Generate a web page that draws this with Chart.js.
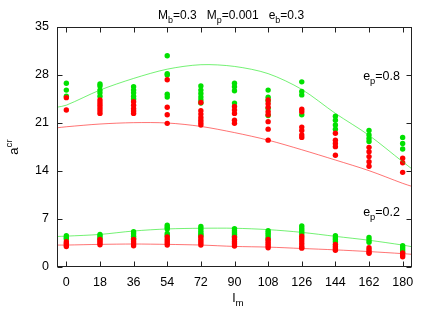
<!DOCTYPE html>
<html>
<head>
<meta charset="utf-8">
<script src="https://cdn.jsdelivr.net/npm/chart.js@4.4.0/dist/chart.umd.min.js"></script>
<style>
  html, body { margin: 0; padding: 0; background: #fff; }
  #wrap { width: 436px; height: 327px; position: relative; }
</style>
</head>
<body>
<div id="wrap"><canvas id="chart"></canvas></div>
<script>
// x positions (l_m) of the data columns
const lmValues = [0, 18, 36, 54, 72, 90, 108, 126, 144, 162, 180];
const yTicks = [0, 7, 14, 21, 28, 35];

// e_p = 0.8 points, one list per column
const upperGreen = [
  [26.8, 25.8, 24.9],
  [26.7, 26.4, 25.8, 25.4, 24.9],
  [26.3, 25.8, 25.4, 24.9, 24.5],
  [30.8, 28.2, 28.0, 25.2, 24.8],
  [26.4, 25.8, 25.3, 24.8, 24.35, 23.9],
  [26.8, 26.3, 25.7, 23.9],
  [25.8, 24.75, 24.25, 23.1, 22.1],
  [27.0, 25.6, 25.1, 22.2],
  [22.0, 21.4, 20.7, 20.1],
  [19.9, 19.25, 18.75, 18.3],
  [18.9, 18.0, 17.2]
];
const upperRed = [
  [24.7, 22.9],
  [24.35, 23.95, 23.6, 23.2, 22.8, 22.4],
  [24.1, 23.6, 23.1, 22.75, 22.4],
  [27.3, 23.3, 22.2, 20.95],
  [24.0, 22.8, 22.3, 21.8, 21.4, 21.05, 20.7],
  [23.4, 22.9, 22.4, 21.4, 20.95],
  [24.35, 23.8, 23.3, 22.65, 22.2, 21.2, 20.1, 18.5],
  [23.0, 22.65, 20.4, 19.9, 19.25, 18.9],
  [19.5, 18.5, 18.0, 17.55, 16.3],
  [17.45, 16.8, 16.1, 15.35, 14.7],
  [15.85, 15.2, 13.8]
];

// e_p = 0.2 points
const lowerGreen = [
  [4.55, 4.3, 4.1],
  [4.75, 4.5, 4.2],
  [5.15, 4.85, 4.5, 4.2],
  [6.1, 5.8, 5.55, 4.9, 4.6],
  [5.9, 5.6, 5.3, 5.0, 4.75, 4.55],
  [5.6, 5.3, 5.0, 4.75, 4.5],
  [5.3, 5.0, 4.7, 4.4, 4.1],
  [6.0, 5.7, 5.4, 5.1, 4.8],
  [4.55, 4.25, 4.0, 3.7],
  [4.3, 3.95, 3.6],
  [3.1, 2.8, 2.5, 2.2]
];
const lowerRed = [
  [3.7, 3.45, 3.2, 3.0],
  [4.0, 3.75, 3.5, 3.25],
  [4.0, 3.7, 3.4, 3.1],
  [4.4, 4.1, 3.8, 3.5, 3.2],
  [4.4, 4.1, 3.8, 3.5, 3.2],
  [4.3, 4.0, 3.7, 3.4, 3.05],
  [4.0, 3.7, 3.4, 3.1, 2.8],
  [4.5, 4.15, 3.8, 3.4, 3.0, 2.75],
  [3.3, 3.0, 2.7, 2.45],
  [2.8, 2.5, 2.2, 2.0],
  [2.05, 1.75, 1.5]
];

const curveX = [-5, 0, 18, 36, 54, 72, 90, 108, 126, 144, 162, 180, 185];
const upperGreenCurve = [23.3, 23.6, 25.8, 27.5, 28.85, 29.5, 29.25, 28.2, 25.9, 22.4, 19.2, 15.35, 14.3];
const upperRedCurve = [20.3, 20.45, 20.85, 21.05, 21.0, 20.5, 19.6, 18.5, 17.1, 15.6, 14.05, 12.2, 11.75];
const lowerGreenCurve = [4.45, 4.5, 4.75, 5.25, 5.55, 5.65, 5.65, 5.45, 5.05, 4.47, 3.9, 3.2, 2.95];
const lowerRedCurve = [3.2, 3.2, 3.3, 3.35, 3.3, 3.2, 3.0, 2.9, 2.7, 2.5, 2.25, 1.95, 1.85];

const GREEN = 'rgb(0,225,0)';
const RED = 'rgb(255,0,0)';
const FONT = '"Liberation Sans", Arial, sans-serif';

function toPoints(cols) {
  const pts = [];
  cols.forEach((vals, i) => vals.forEach(v => pts.push({ x: lmValues[i], y: v })));
  return pts;
}

function toCurve(vals) {
  return vals.map((v, i) => ({ x: curveX[i], y: v }));
}

function dotSet(cols, color, order) {
  return {
    type: 'scatter',
    data: toPoints(cols),
    backgroundColor: color,
    borderColor: color,
    borderWidth: 0,
    pointRadius: 2.7,
    order
  };
}

function curveSet(vals, color) {
  return {
    type: 'line',
    data: toCurve(vals),
    borderColor: color,
    borderWidth: 1,
    pointRadius: 0,
    tension: 0.3,
    fill: false,
    order: 0
  };
}

// draw text made of pieces, some of them sub- or superscript
function richText(ctx, parts, x, y, size, align) {
  const small = size * 0.75;
  let width = 0;
  parts.forEach(p => {
    ctx.font = (p.sub || p.sup ? small : size) + 'px ' + FONT;
    p.w = ctx.measureText(p.t).width;
    width += p.w;
  });
  let cx = align === 'center' ? x - width / 2 : (align === 'right' ? x - width : x);
  parts.forEach(p => {
    ctx.font = (p.sub || p.sup ? small : size) + 'px ' + FONT;
    const dy = p.sub ? size * 0.3 : (p.sup ? -size * 0.45 : 0);
    ctx.fillText(p.t, cx, y + dy);
    cx += p.w;
  });
}

// frame, inward ticks and annotations (gnuplot look)
const framePlugin = {
  id: 'frame',
  afterDraw(chart) {
    const { ctx, chartArea: a, scales } = chart;
    ctx.save();
    ctx.strokeStyle = '#222';
    ctx.lineWidth = 1;
    const L = Math.round(a.left) + 0.5, R = Math.round(a.right) - 0.5;
    const T = Math.round(a.top) + 0.5, B = Math.round(a.bottom) - 0.5;
    ctx.strokeRect(L, T, R - L, B - T);
    ctx.beginPath();
    const tl = 5;
    scales.x.ticks.forEach(t => {
      const px = Math.round(scales.x.getPixelForValue(t.value)) + 0.5;
      ctx.moveTo(px, B); ctx.lineTo(px, B - tl);
      ctx.moveTo(px, T); ctx.lineTo(px, T + tl);
    });
    scales.y.ticks.forEach(t => {
      const py = Math.round(scales.y.getPixelForValue(t.value)) + 0.5;
      ctx.moveTo(L, py); ctx.lineTo(L + tl, py);
      ctx.moveTo(R, py); ctx.lineTo(R - tl, py);
    });
    ctx.stroke();

    ctx.fillStyle = '#000';
    ctx.textBaseline = 'alphabetic';
    // title
    richText(ctx, [
      { t: 'M' }, { t: 'b', sub: true }, { t: '=0.3   M' }, { t: 'p', sub: true },
      { t: '=0.001   e' }, { t: 'b', sub: true }, { t: '=0.3' }
    ], 231, 19, 12, 'center');
    // labels inside the plot
    richText(ctx, [{ t: 'e' }, { t: 'p', sub: true }, { t: '=0.8' }], 400, 80, 12.5, 'right');
    richText(ctx, [{ t: 'e' }, { t: 'p', sub: true }, { t: '=0.2' }], 400, 216, 12.5, 'right');
    // x axis label
    richText(ctx, [{ t: 'l' }, { t: 'm', sub: true }], 238, 302, 13, 'center');
    // y axis label, rotated
    ctx.translate(18, 147);
    ctx.rotate(-Math.PI / 2);
    richText(ctx, [{ t: 'a' }, { t: 'cr', sup: true }], 0, 0, 13, 'center');
    ctx.restore();
  }
};

const datasets = [
  dotSet(upperGreen, GREEN, 3),
  dotSet(lowerGreen, GREEN, 3),
  dotSet(upperRed, RED, 2),
  dotSet(lowerRed, RED, 2),
  curveSet(upperGreenCurve, 'rgba(0,230,0,0.55)'),
  curveSet(lowerGreenCurve, 'rgba(0,230,0,0.55)'),
  curveSet(upperRedCurve, 'rgba(255,0,0,0.55)'),
  curveSet(lowerRedCurve, 'rgba(255,0,0,0.55)')
];

new Chart(document.getElementById('chart'), {
  type: 'scatter',
  data: { datasets },
  options: {
    responsive: true,
    maintainAspectRatio: false,
    animation: false,
    layout: { padding: { left: 0, right: 24, top: 27, bottom: 0 } },
    plugins: {
      legend: { display: false },
      tooltip: { enabled: false },
      title: { display: false }
    },
    scales: {
      x: {
        type: 'linear',
        min: -5,
        max: 185,
        afterBuildTicks: scale => { scale.ticks = lmValues.map(v => ({ value: v })); },
        afterFit: scale => { scale.height = 60; },
        grid: { display: false, drawTicks: false },
        border: { display: false },
        ticks: { color: '#000', font: { family: FONT, size: 12.5 }, padding: 8, autoSkip: false, maxRotation: 0 }
      },
      y: {
        type: 'linear',
        min: 0,
        max: 35,
        afterBuildTicks: scale => { scale.ticks = yTicks.map(v => ({ value: v })); },
        afterFit: scale => { scale.width = 57; },
        grid: { display: false, drawTicks: false },
        border: { display: false },
        ticks: { color: '#000', font: { family: FONT, size: 12.5 }, padding: 8 }
      }
    }
  },
  plugins: [framePlugin]
});
</script>
</body>
</html>
